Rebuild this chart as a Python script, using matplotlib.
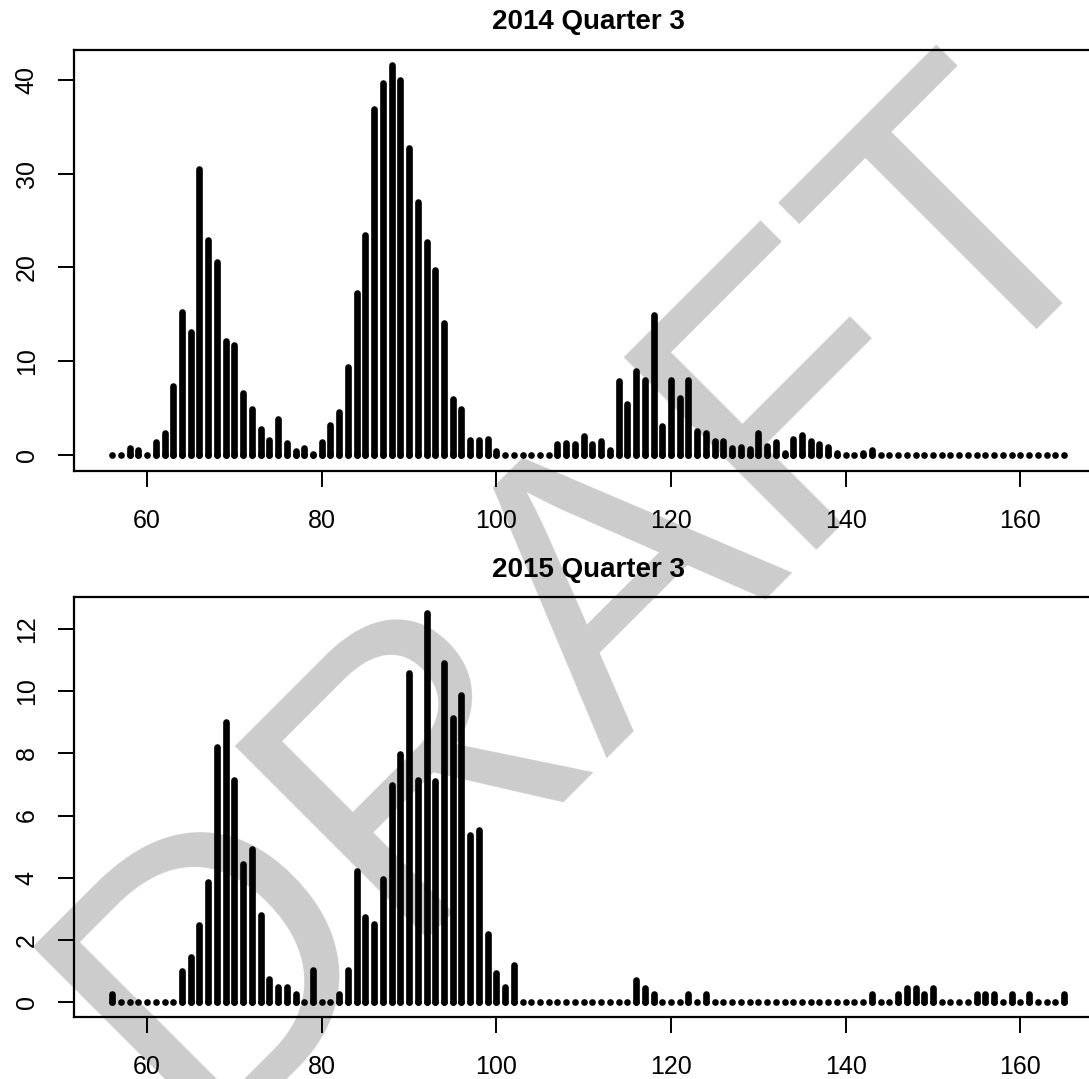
import numpy as np
import matplotlib.pyplot as plt

# eixo x: comprimentos (cm)
lengths = np.arange(56, 166)

# 2014 trimestre 3
q3_2014 = [0, 0, 0.7, 0.55, 0, 1.35, 2.35, 7.35, 15.25, 13.15,
           30.45, 22.95, 20.55, 12.15, 11.75, 6.65, 4.95, 2.75, 1.65, 3.85,
           1.25, 0.45, 0.7, 0.15, 1.35, 3.25, 4.55, 9.35, 17.25, 23.45,
           36.85, 39.65, 41.55, 39.95, 32.75, 26.95, 22.75, 19.75, 14.05, 5.95,
           4.95, 1.65, 1.65, 1.75, 0.45, 0, 0, 0, 0, 0,
           0, 1.15, 1.25, 1.15, 2.05, 1.15, 1.5, 0.55, 7.85, 5.45,
           9.0, 8.05, 14.95, 3.15, 8.0, 6.05, 8.05, 2.6, 2.35, 1.55,
           1.45, 0.7, 0.9, 0.6, 2.35, 0.95, 1.4, 0.25, 1.7, 2.1,
           1.55, 1.15, 0.9, 0.25, 0, 0, 0.25, 0.55, 0, 0,
           0, 0, 0, 0, 0, 0, 0, 0, 0, 0,
           0, 0, 0, 0, 0, 0, 0, 0, 0, 0]

# 2015 trimestre 3
q3_2015 = [0.25, 0, 0, 0, 0, 0, 0, 0, 1.0, 1.44,
           2.46, 3.87, 8.22, 9.0, 7.15, 4.43, 4.93, 2.78, 0.74, 0.49,
           0.49, 0.25, 0, 1.03, 0, 0, 0.25, 1.03, 4.2, 2.72,
           2.51, 3.95, 6.97, 7.99, 10.59, 7.13, 12.54, 7.1, 10.9, 9.14,
           9.89, 5.36, 5.52, 2.19, 0.94, 0.49, 1.19, 0, 0, 0,
           0, 0, 0, 0, 0, 0, 0, 0, 0, 0,
           0.7, 0.45, 0.25, 0, 0, 0, 0.25, 0, 0.25, 0,
           0, 0, 0, 0, 0, 0, 0, 0, 0, 0,
           0, 0, 0, 0, 0, 0, 0, 0.25, 0, 0,
           0.25, 0.45, 0.45, 0.25, 0.45, 0, 0, 0, 0, 0.25,
           0.25, 0.25, 0, 0.25, 0, 0.25, 0, 0, 0, 0.25]

titles = ['2014 Quarter 3', '2015 Quarter 3']
x_ticks = [60, 80, 100, 120, 140, 160]
y_ticks = [[0, 10, 20, 30, 40], [0, 2, 4, 6, 8, 10, 12]]

plt.rcParams['font.family'] = ['Liberation Sans', 'DejaVu Sans']

fig = plt.figure(figsize=(10.89, 10.79), dpi=100)
fig.patch.set_facecolor('white')

# marca d'agua por baixo de tudo
fig.text(193 / 1089, 1 - 1140 / 1079, 'DRAFT', fontsize=285, color='#cccccc',
         rotation=45, rotation_mode='anchor', ha='left', va='baseline', zorder=-5)

positions = [[0.068, 0.5638, 0.944, 0.3903], [0.068, 0.0572, 0.944, 0.3895]]

for pos, values, title, yt in zip(positions, [q3_2014, q3_2015], titles, y_ticks):
    ax = fig.add_axes(pos)
    ax.set_facecolor('none')
    v = np.array(values)
    # estilo type="h" do R, com pontas arredondadas
    ax.vlines(lengths, 0, v, colors='black', lw=4.8, capstyle='round')
    ax.plot(lengths, np.zeros_like(v), 'o', ms=4.8, mew=0, color='black')

    pad_x = 0.04 * (lengths.max() - lengths.min())
    pad_y = 0.04 * (v.max() - 0)
    ax.set_xlim(lengths.min() - pad_x, lengths.max() + pad_x)
    ax.set_ylim(-pad_y, v.max() + pad_y)

    ax.set_xticks(x_ticks)
    ax.set_yticks(yt)
    ax.tick_params(axis='both', direction='out', length=11.5, width=1.4,
                   labelsize=18)
    ax.tick_params(axis='x', pad=16)
    ax.tick_params(axis='y', pad=14, labelrotation=90)
    for lbl in ax.get_yticklabels():
        lbl.set_va('center')
    for s in ax.spines.values():
        s.set_linewidth(1.6)
    ax.set_title(title, fontsize=20, fontweight='bold', pad=14.5)

fig.savefig('out.png', dpi=100, facecolor='white')
